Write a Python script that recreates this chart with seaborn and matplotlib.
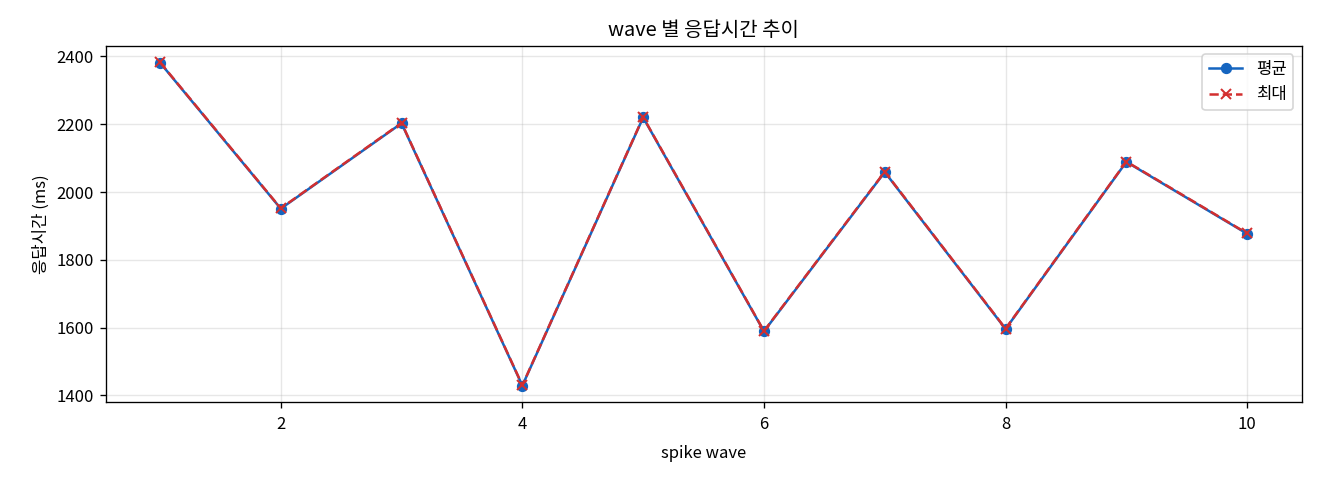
import pandas as pd
import matplotlib
matplotlib.use("Agg")
import matplotlib.pyplot as plt
import seaborn as sns

plt.rcParams['font.family'] = ['Noto Sans CJK KR', 'DejaVu Sans']
plt.rcParams['axes.unicode_minus'] = False

# wave 별 응답시간 (ms)
waves = [1, 2, 3, 4, 5, 6, 7, 8, 9, 10]
avg_ms = [2382, 1951, 2203, 1429, 2220, 1589, 2059, 1596, 2089, 1877]
max_ms = [2383, 1952, 2204, 1430, 2221, 1590, 2060, 1597, 2090, 1878]

df = pd.DataFrame({'wave': waves, '평균': avg_ms, '최대': max_ms})

fig, ax = plt.subplots(figsize=(11, 4), dpi=120)

sns.lineplot(data=df, x='wave', y='평균', ax=ax, color='#1565C0',
             marker='o', markersize=6, markeredgecolor='#1565C0',
             linewidth=1.5, label='평균')
sns.lineplot(data=df, x='wave', y='최대', ax=ax, color='#D32F2F',
             marker='x', markersize=6, markeredgecolor='#D32F2F',
             markeredgewidth=1.2, linewidth=1.5, label='최대')
# dashed line for max series
ax.lines[1].set_linestyle('--')

ax.set_title('wave 별 응답시간 추이', fontsize=12)
ax.set_xlabel('spike wave', fontsize=10, labelpad=7)
ax.set_ylabel('응답시간 (ms)', fontsize=10)
ax.tick_params(labelsize=10)
ax.tick_params(axis='x', pad=5)
ax.grid(True, alpha=0.3)
ax.legend(loc='upper right', fontsize=10)

fig.subplots_adjust(left=0.08, right=0.986, top=0.904, bottom=0.163)
plt.savefig('out.png', dpi=120)
